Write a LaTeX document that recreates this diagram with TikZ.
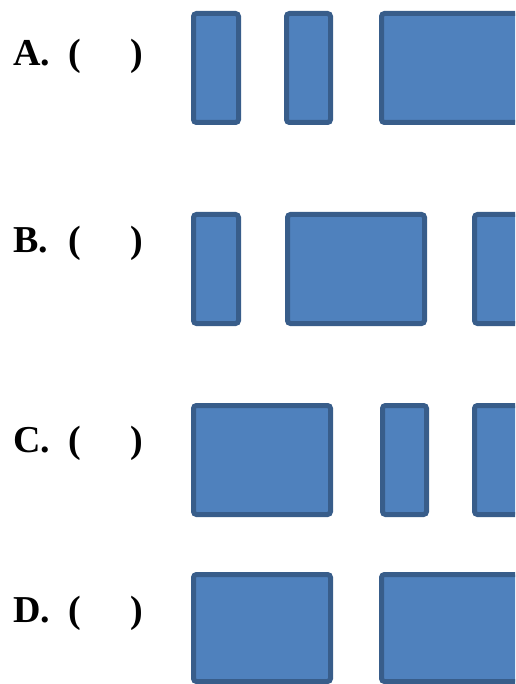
\documentclass[tikz,border=0pt]{standalone}
\usepackage{fontspec}
\setmainfont{Liberation Serif}
\definecolor{boxfill}{HTML}{4F81BD}
\definecolor{boxline}{HTML}{385D8A}
\tikzset{
  bar/.style={fill=boxfill, draw=boxline, line width=5pt, rounded corners=3pt},
  optlabel/.style={anchor=base west, inner sep=0pt, font=\fontsize{38}{40}\selectfont\bfseries},
}
\begin{document}
\begin{tikzpicture}[x=1pt, y=-1pt]
  \useasboundingbox (0,0) rectangle (515,684);
  \clip (0,0) rectangle (515,684);
  % option labels
  \foreach \name/\base in {A/66, B/253, C/452, D/622} {
    \node[optlabel] (lbl\name) at (13,\base) {\name.};
    \node[optlabel] (lp\name) at (68,\base) {(};
    \node[optlabel] (rp\name) at (130,\base) {)};
  }
  % row A
  \path[bar] (193.5,13.5) rectangle (238.5,122.5);
  \path[bar] (286.5,13.5) rectangle (330.5,122.5);
  \path[bar] (381.5,13.5) rectangle (560,122.5);
  % row B
  \path[bar] (193.5,214.5) rectangle (238.5,323.5);
  \path[bar] (287.5,214.5) rectangle (424.5,323.5);
  \path[bar] (474.5,214.5) rectangle (600,323.5);
  % row C
  \path[bar] (193.5,405.5) rectangle (330.5,514.5);
  \path[bar] (382.5,405.5) rectangle (426.5,514.5);
  \path[bar] (474.5,405.5) rectangle (600,514.5);
  % row D
  \path[bar] (193.5,574.5) rectangle (330.5,681.5);
  \path[bar] (381.5,574.5) rectangle (560,681.5);
\end{tikzpicture}
\end{document}
